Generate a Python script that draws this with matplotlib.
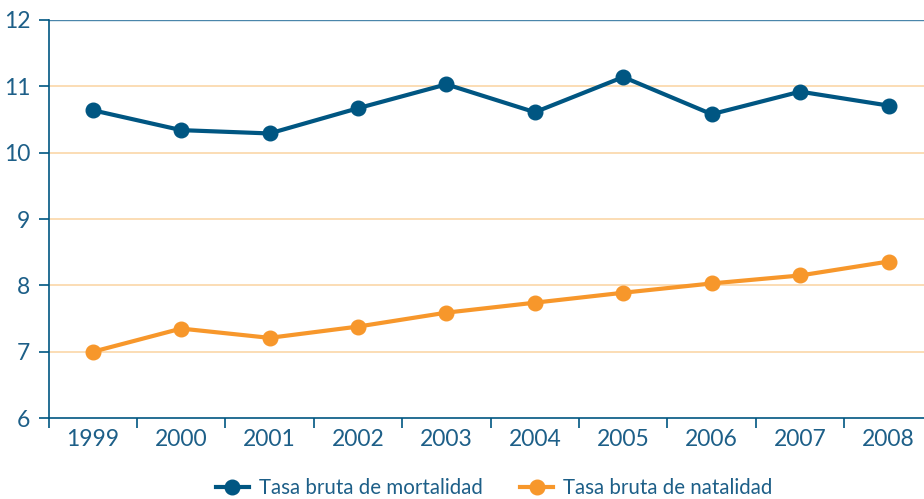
import numpy as np
import matplotlib
import matplotlib.pyplot as plt

matplotlib.rcParams["font.family"] = ["Lato", "DejaVu Sans"]

years = ["1999", "2000", "2001", "2002", "2003", "2004", "2005", "2006", "2007", "2008"]
mortalidad = [10.64, 10.34, 10.29, 10.67, 11.03, 10.61, 11.14, 10.58, 10.92, 10.71]
natalidad = [7.00, 7.35, 7.21, 7.38, 7.59, 7.74, 7.89, 8.03, 8.15, 8.36]

blue = "#005682"
orange = "#f7972b"
grid_col = "#fbd7a8"
text_col = "#1d5f88"

fig = plt.figure(figsize=(9.24, 4.99), dpi=100)
ax = fig.add_axes([0.0525, 0.162, 0.957, 0.798])

x = np.arange(len(years))
ax.plot(x, mortalidad, color=blue, lw=3, marker="o", ms=10.5, label="Tasa bruta de mortalidad", zorder=3)
ax.plot(x, natalidad, color=orange, lw=3, marker="o", ms=10.5, label="Tasa bruta de natalidad", zorder=3)

ax.set_xlim(-0.5, len(years) - 0.5)
ax.set_ylim(6, 12)
ax.set_yticks(range(6, 13))
for v in range(7, 12):
    ax.axhline(v, color=grid_col, lw=1.2, zorder=1)
ax.axhline(12, color="#4a86ab", lw=1.0, zorder=1)

ax.set_xticks(x)
ax.set_xticklabels(years)
ax.set_xticks(np.arange(-0.5, len(years) - 0.5, 1), minor=True)
ax.tick_params(axis="x", which="major", length=0, pad=8, labelsize=16.5, labelcolor=text_col)
ax.tick_params(axis="x", which="minor", length=7, width=1.2, color=blue, direction="out")
ax.tick_params(axis="y", length=7, width=1.2, color=blue, labelsize=16.5, labelcolor=text_col, pad=6)

for s in ["top", "right"]:
    ax.spines[s].set_visible(False)
for s in ["left", "bottom"]:
    ax.spines[s].set_color(blue)
    ax.spines[s].set_linewidth(1.2)

leg = fig.legend(loc="lower center", bbox_to_anchor=(0.535, -0.035), ncol=2, frameon=False,
                 fontsize=14.8, handlelength=1.6, columnspacing=1.8, handletextpad=0.5)
for t in leg.get_texts():
    t.set_color(text_col)

fig.savefig("out.png", dpi=100)
